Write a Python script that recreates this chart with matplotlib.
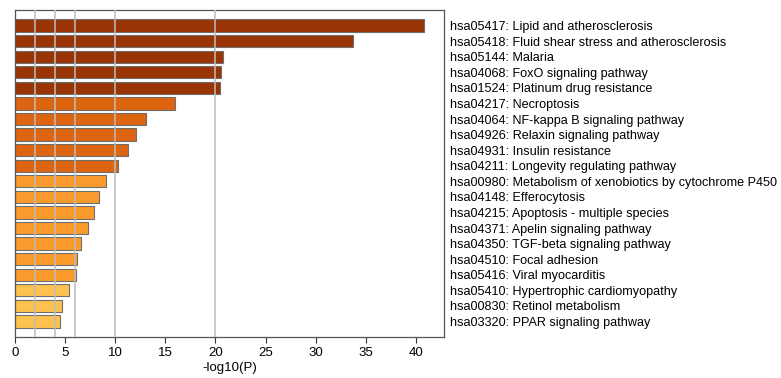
import matplotlib
matplotlib.use('Agg')
import matplotlib.pyplot as plt
import numpy as np

plt.rcParams['font.family'] = ['Liberation Sans', 'DejaVu Sans']

# ── data ──────────────────────────────────────────────────────────────────────
terms = [
    "hsa05417: Lipid and atherosclerosis",
    "hsa05418: Fluid shear stress and atherosclerosis",
    "hsa05144: Malaria",
    "hsa04068: FoxO signaling pathway",
    "hsa01524: Platinum drug resistance",
    "hsa04217: Necroptosis",
    "hsa04064: NF-kappa B signaling pathway",
    "hsa04926: Relaxin signaling pathway",
    "hsa04931: Insulin resistance",
    "hsa04211: Longevity regulating pathway",
    "hsa00980: Metabolism of xenobiotics by cytochrome P450",
    "hsa04148: Efferocytosis",
    "hsa04215: Apoptosis - multiple species",
    "hsa04371: Apelin signaling pathway",
    "hsa04350: TGF-beta signaling pathway",
    "hsa04510: Focal adhesion",
    "hsa05416: Viral myocarditis",
    "hsa05410: Hypertrophic cardiomyopathy",
    "hsa00830: Retinol metabolism",
    "hsa03320: PPAR signaling pathway",
]
neglogp = [40.8, 33.7, 20.8, 20.6, 20.5, 16.0, 13.1, 12.1, 11.3, 10.3,
           9.1, 8.35, 7.9, 7.3, 6.6, 6.2, 6.1, 5.35, 4.65, 4.5]
tiers = [0, 0, 0, 0, 0, 1, 1, 1, 1, 1, 2, 2, 2, 2, 2, 2, 2, 3, 3, 3]
thresholds = [2, 4, 6, 10, 20]
xticks = [0, 5, 10, 15, 20, 25, 30, 35, 40]

TIER_COLORS = ['#993404', '#dd6410', '#fb9a2c', '#fdc24e']

# ── plot ──────────────────────────────────────────────────────────────────────
fig = plt.figure(figsize=(7.81, 3.78), dpi=100)
ax = fig.add_axes([15 / 781, 1 - 337 / 378, (444 - 15) / 781, (337 - 10) / 378])

y = np.arange(len(terms))
ax.barh(y, neglogp, height=0.78, color=[TIER_COLORS[t] for t in tiers],
        edgecolor='#6e6e6e', linewidth=0.8, zorder=2)

for t in thresholds:
    ax.axvline(t, color='#bdbdbd', linewidth=1.3, alpha=0.85, zorder=3)

ax.set_xlim(0, 42.8)
ax.set_ylim(len(terms), -1)
ax.set_yticks(y)
ax.set_yticklabels(terms, fontsize=9.05)
ax.yaxis.tick_right()
ax.tick_params(axis='y', length=0, pad=4)
ax.set_xticks(xticks)
ax.tick_params(axis='x', labelsize=9.5, length=4, width=0.8, color='#333333', pad=3)
ax.set_xlabel("-log10(P)", fontsize=9.5, labelpad=2)
for spine in ax.spines.values():
    spine.set_edgecolor('#555555')
    spine.set_linewidth(0.9)

fig.savefig('out.png', dpi=100)
